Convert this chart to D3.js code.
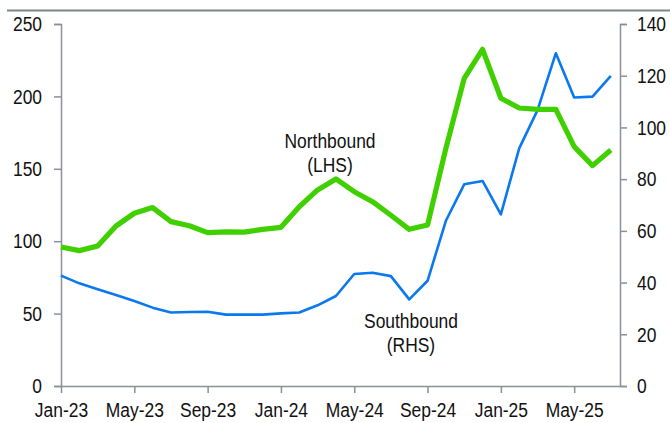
<!DOCTYPE html>
<html>
<head>
<meta charset="utf-8">
<script src="https://cdn.jsdelivr.net/npm/d3@7"></script>
<style>
  html, body { margin: 0; padding: 0; background: #fff; }
  svg { display: block; }
  text { font-family: "Liberation Sans Narrow", "Arial Narrow", "Liberation Sans", Arial, sans-serif; fill: #111; }
</style>
</head>
<body>
<svg id="chart" width="670" height="423"></svg>
<script>
// ---- data ----
const months = ["Jan-23","Feb-23","Mar-23","Apr-23","May-23","Jun-23","Jul-23","Aug-23","Sep-23","Oct-23","Nov-23","Dec-23",
                "Jan-24","Feb-24","Mar-24","Apr-24","May-24","Jun-24","Jul-24","Aug-24","Sep-24","Oct-24","Nov-24","Dec-24",
                "Jan-25","Feb-25","Mar-25","Apr-25","May-25","Jun-25","Jul-25"];
const northbound = [96, 93.5, 96.7, 110.5, 119.3, 123.2, 113.5, 110.7, 105.9, 106.4, 106.3, 108.2,
                    109.6, 123.8, 135.4, 143, 134.2, 127.3, 117.9, 108.2, 111.2, 164.1, 212.5, 232.5,
                    198.7, 192, 191.1, 191.1, 165.3, 152.2, 163];
const southbound = [42.7, 39.7, 37.4, 35.2, 32.9, 30.3, 28.4, 28.6, 28.7, 27.6, 27.6, 27.6,
                    28.1, 28.4, 31.2, 34.8, 43.3, 43.8, 42.5, 33.5, 40.7, 63.9, 78, 79.3,
                    66.4, 91.9, 106.7, 128.7, 111.6, 111.9, 119.9];
const leftTicks = [0, 50, 100, 150, 200, 250];
const rightTicks = [0, 20, 40, 60, 80, 100, 120, 140];
const xTickIdx = [0, 4, 8, 12, 16, 20, 24, 28];
const title = "Average daily turnover through Stock Connect (RMB bn)";

// ---- layout ----
const svg = d3.select("#chart");
const x = d3.scaleLinear().domain([0, 30.5]).range([61, 620]);
const yL = d3.scaleLinear().domain([0, 250]).range([386, 24]);
const yR = d3.scaleLinear().domain([0, 140]).range([386, 24]);
const axisColor = "#8a9198";
const FS = "21px";

// clipped title + top rule
svg.append("text").attr("class", "narrow").attr("x", 280).attr("y", -4).attr("text-anchor", "middle")
  .style("font-size", "20px").style("fill", "#1f5fbf").text(title);
svg.append("line").attr("x1", 7).attr("x2", 670).attr("y1", 10.5).attr("y2", 10.5)
  .attr("stroke", "#7d858c").attr("stroke-width", 2);

function styleAxis(g) {
  g.select(".domain").attr("stroke", axisColor).attr("stroke-width", 1.5);
  g.selectAll(".tick line").attr("stroke", axisColor).attr("stroke-width", 1.5);
  g.selectAll(".tick text").attr("class", "narrow").style("font-size", FS).style("fill", "#111")
   .style("font-family", "\"Liberation Sans Narrow\", \"Arial Narrow\", \"Liberation Sans\", Arial, sans-serif");
}

// left axis
const gL = svg.append("g").attr("transform", "translate(61,0)")
  .call(d3.axisLeft(yL).tickValues(leftTicks).tickSize(7).tickPadding(12).tickSizeOuter(7));
styleAxis(gL);

// right axis
const gR = svg.append("g").attr("transform", "translate(620,0)")
  .call(d3.axisRight(yR).tickValues(rightTicks).tickSize(7).tickPadding(10).tickSizeOuter(7));
styleAxis(gR);

// bottom axis
const gB = svg.append("g").attr("transform", "translate(0,386)")
  .call(d3.axisBottom(x).tickValues(xTickIdx).tickFormat(i => months[i]).tickSize(7).tickPadding(6).tickSizeOuter(0));
styleAxis(gB);
gB.selectAll(".tick text").attr("dy", "0.88em");

// lines
const lineN = d3.line().x((d, i) => x(i)).y(d => yL(d)).curve(d3.curveLinear);
const lineS = d3.line().x((d, i) => x(i)).y(d => yR(d)).curve(d3.curveLinear);

svg.append("path").datum(southbound).attr("d", lineS)
  .attr("fill", "none").attr("stroke", "#0a78ee").attr("stroke-width", 2.6).attr("stroke-linejoin", "round");
svg.append("path").datum(northbound).attr("d", lineN)
  .attr("fill", "none").attr("stroke", "#40d000").attr("stroke-width", 5.2).attr("stroke-linejoin", "round");

// annotations
const ann = svg.append("g").style("font-size", FS);
ann.append("text").attr("class", "narrow").attr("x", 330).attr("y", 148).attr("text-anchor", "middle").text("Northbound");
ann.append("text").attr("class", "narrow").attr("x", 330).attr("y", 172).attr("text-anchor", "middle").text("(LHS)");
ann.append("text").attr("class", "narrow").attr("x", 411).attr("y", 328).attr("text-anchor", "middle").text("Southbound");
ann.append("text").attr("class", "narrow").attr("x", 411).attr("y", 352).attr("text-anchor", "middle").text("(RHS)");

// emulate a condensed face if no narrow font is installed: horizontal scale about each text's anchor
const probe = svg.append("text").style("font-size", "21px").text("Northbound");
const isNarrow = probe.node().getComputedTextLength() < 100;
probe.remove();
if (!isNarrow) {
  svg.selectAll("text.narrow").each(function() {
    const ax = +(this.getAttribute("x") || 0);
    this.setAttribute("transform", `translate(${ax},0) scale(0.83,1) translate(${-ax},0)`);
  });
}
</script>
</body>
</html>
